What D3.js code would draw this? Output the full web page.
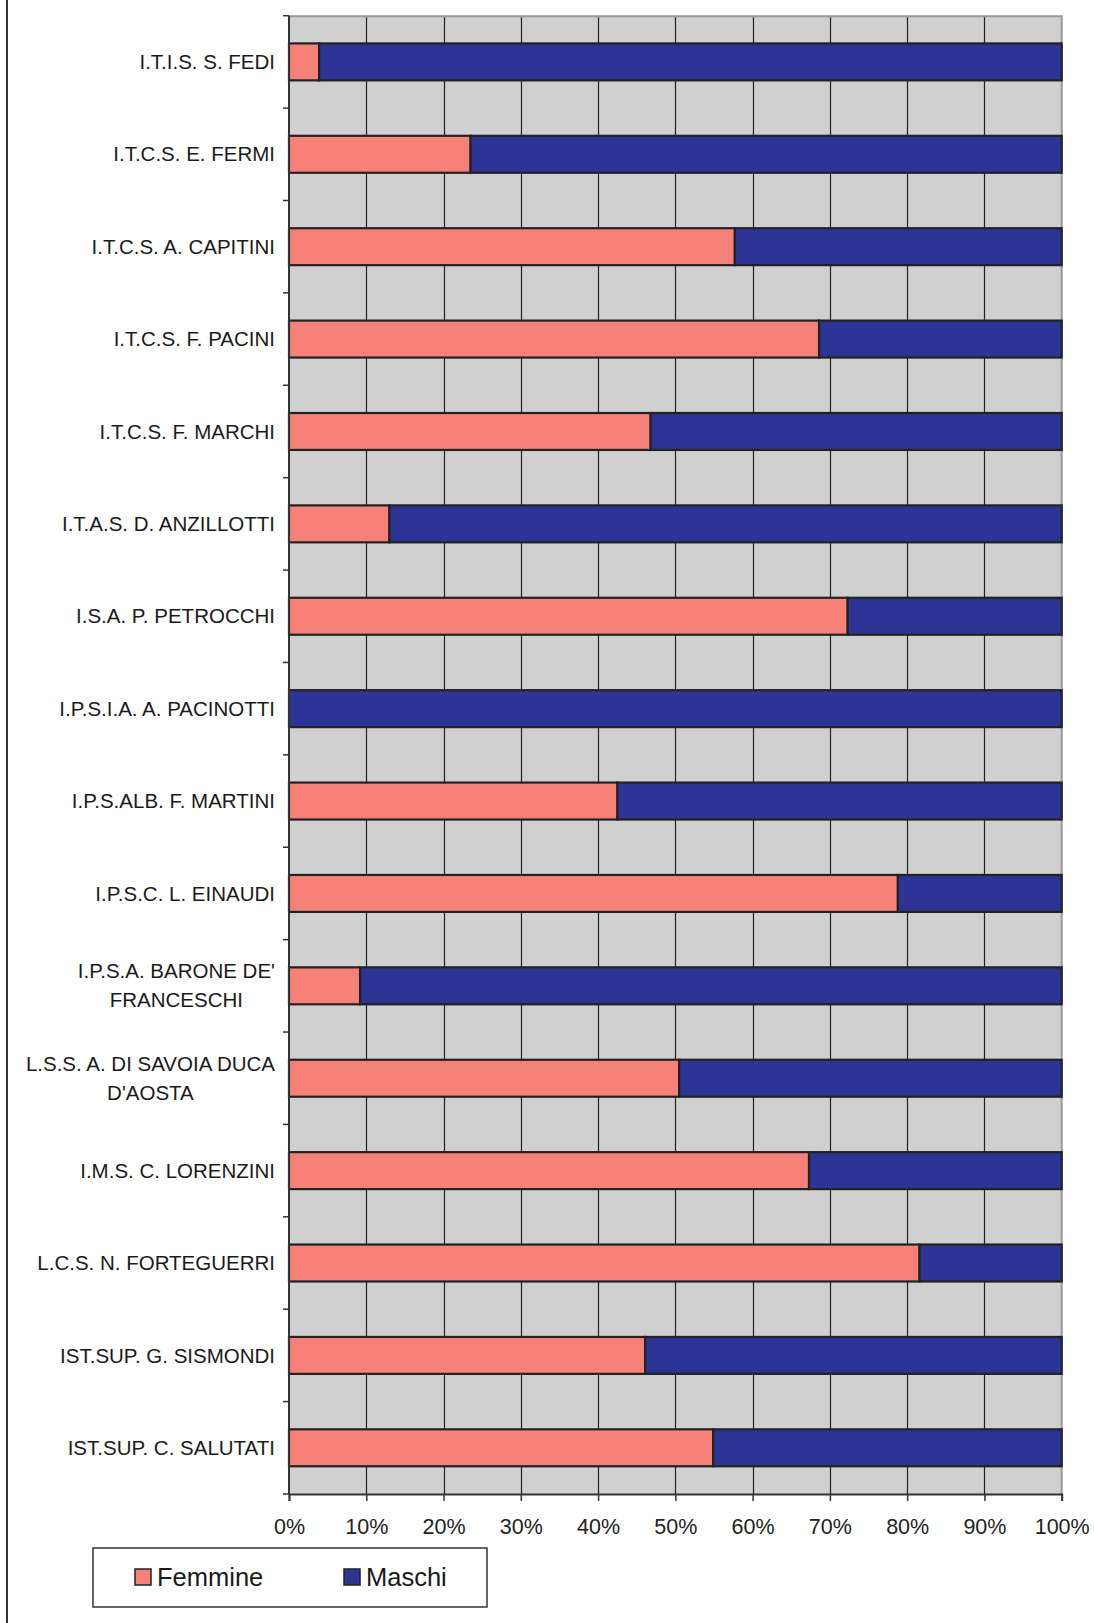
<!DOCTYPE html>
<html>
<head>
<meta charset="utf-8">
<script src="https://cdn.jsdelivr.net/npm/d3@7"></script>
<style>
  body { margin: 0; background: #fff; }
  svg { display: block; font-family: "Liberation Sans", Arial, sans-serif; }
</style>
</head>
<body>
<svg id="chart" width="1094" height="1623"></svg>
<script>
// schools, top to bottom (multi-line labels split on "|")
const schools = [
  'I.T.I.S. S. FEDI',
  'I.T.C.S. E. FERMI',
  'I.T.C.S. A. CAPITINI',
  'I.T.C.S. F. PACINI',
  'I.T.C.S. F. MARCHI',
  'I.T.A.S. D. ANZILLOTTI',
  'I.S.A. P. PETROCCHI',
  'I.P.S.I.A. A. PACINOTTI',
  'I.P.S.ALB. F. MARTINI',
  'I.P.S.C. L. EINAUDI',
  "I.P.S.A. BARONE DE'|FRANCESCHI",
  "L.S.S. A. DI SAVOIA DUCA|D'AOSTA",
  'I.M.S. C. LORENZINI',
  'L.C.S. N. FORTEGUERRI',
  'IST.SUP. G. SISMONDI',
  'IST.SUP. C. SALUTATI'
];
// share of girls, percent
const femmine = [3.9, 23.5, 57.7, 68.6, 46.8, 13.0, 72.3, 0, 42.5, 78.8, 9.2, 50.5, 67.3, 81.6, 46.1, 54.9];
const maschi = femmine.map(f => 100 - f);
const xTicks = [0, 10, 20, 30, 40, 50, 60, 70, 80, 90, 100];
const seriesNames = ['Femmine', 'Maschi'];
const colors = ['#f58178', '#2c3595'];

const margin = { top: 15.7, left: 289, right: 1094 - 1061.7, bottom: 1623 - 1494 };
const width = 1094, height = 1623;
const cW = width - margin.left - margin.right;
const cH = height - margin.top - margin.bottom;

const svg = d3.select('#chart');

// outer frame line at the left
svg.append('line').attr('x1', 7).attr('x2', 7).attr('y1', 0).attr('y2', height)
  .attr('stroke', '#333').attr('stroke-width', 2);

const g = svg.append('g').attr('transform', `translate(${margin.left},${margin.top})`);

const x = d3.scaleLinear().domain([0, 100]).range([0, cW]);
const y = d3.scaleBand().domain(d3.range(schools.length)).range([0, cH])
  .paddingInner(0.6).paddingOuter(0.3);
const yb = d3.scaleBand().domain(d3.range(schools.length)).range([0, cH]);

// plot background
g.append('rect').attr('width', cW).attr('height', cH).attr('fill', '#d0d0d0');

// vertical grid
g.selectAll('line.grid').data(xTicks.slice(1, -1)).enter().append('line')
  .attr('class', 'grid')
  .attr('x1', d => Math.round(x(d)) + 0.5).attr('x2', d => Math.round(x(d)) + 0.5)
  .attr('y1', 0).attr('y2', cH)
  .attr('stroke', '#222').attr('stroke-width', 1.2);

// plot border top/right
g.append('path').attr('d', `M0,0.5H${cW}V${cH}`).attr('fill', 'none')
  .attr('stroke', '#999').attr('stroke-width', 2);

// stacked bars
const stacked = d3.stack().keys([0, 1])(schools.map((s, i) => [femmine[i], maschi[i]]));
stacked.forEach((layer, k) => {
  g.selectAll(`rect.s${k}`).data(layer).enter().append('rect')
    .attr('class', `s${k}`)
    .attr('x', d => x(d[0]))
    .attr('y', (d, i) => y(i))
    .attr('width', d => x(d[1]) - x(d[0]))
    .attr('height', y.bandwidth())
    .attr('fill', colors[k])
    .attr('stroke', '#222')
    .attr('stroke-width', 2.2)
    .style('display', d => d[1] - d[0] > 0 ? null : 'none');
});

// x axis
const xAxis = g.append('g').attr('transform', `translate(0,${cH})`)
  .call(d3.axisBottom(x).tickValues(xTicks).tickFormat(d => d + '%').tickSize(7).tickPadding(18));
xAxis.select('.domain').attr('stroke', '#333').attr('stroke-width', 2);
xAxis.selectAll('.tick line').attr('stroke', '#333').attr('stroke-width', 1.5);
xAxis.selectAll('.tick text').attr('font-size', 21.5).attr('fill', '#222')
  .attr('font-family', '"Liberation Sans", Arial, sans-serif');

// y axis: ticks on band boundaries
const yBounds = d3.range(schools.length + 1).map(i => i * yb.step());
g.append('line').attr('x1', 0).attr('x2', 0).attr('y1', 0).attr('y2', cH)
  .attr('stroke', '#333').attr('stroke-width', 2);
g.selectAll('line.ytick').data(yBounds).enter().append('line')
  .attr('class', 'ytick')
  .attr('x1', -6).attr('x2', 0).attr('y1', d => d).attr('y2', d => d)
  .attr('stroke', '#333').attr('stroke-width', 1.5);

// category labels
const labelRight = -14;
const lineH = 29;
schools.forEach((s, i) => {
  const lines = s.split('|');
  const cy = yb(i) + yb.bandwidth() / 2;
  const t = g.append('text').attr('font-size', 20.5).attr('fill', '#1a1a1a');
  lines.forEach((ln, j) => {
    t.append('tspan').attr('x', 0)
      .attr('y', cy + (j - (lines.length - 1) / 2) * lineH)
      .attr('dy', '0.35em').text(ln);
  });
  if (lines.length === 1) {
    t.attr('text-anchor', 'end').selectAll('tspan').attr('x', labelRight);
  } else {
    const w = d3.max(t.selectAll('tspan').nodes(), n => n.getComputedTextLength());
    t.attr('text-anchor', 'middle').selectAll('tspan').attr('x', labelRight - w / 2);
  }
});

// legend
const lg = svg.append('g').attr('transform', 'translate(93,1548)');
lg.append('rect').attr('width', 394).attr('height', 59)
  .attr('fill', '#fff').attr('stroke', '#333').attr('stroke-width', 1.5);
const lx = d3.scaleOrdinal().domain(seriesNames).range([42, 251]);
seriesNames.forEach((n, k) => {
  lg.append('rect').attr('x', lx(n)).attr('y', 21).attr('width', 16).attr('height', 16)
    .attr('fill', colors[k]).attr('stroke', '#222').attr('stroke-width', 1.5);
  lg.append('text').attr('x', lx(n) + 22).attr('y', 29).attr('dy', '0.36em')
    .attr('font-size', 25.5).attr('fill', '#1a1a1a').text(n);
});
</script>
</body>
</html>
